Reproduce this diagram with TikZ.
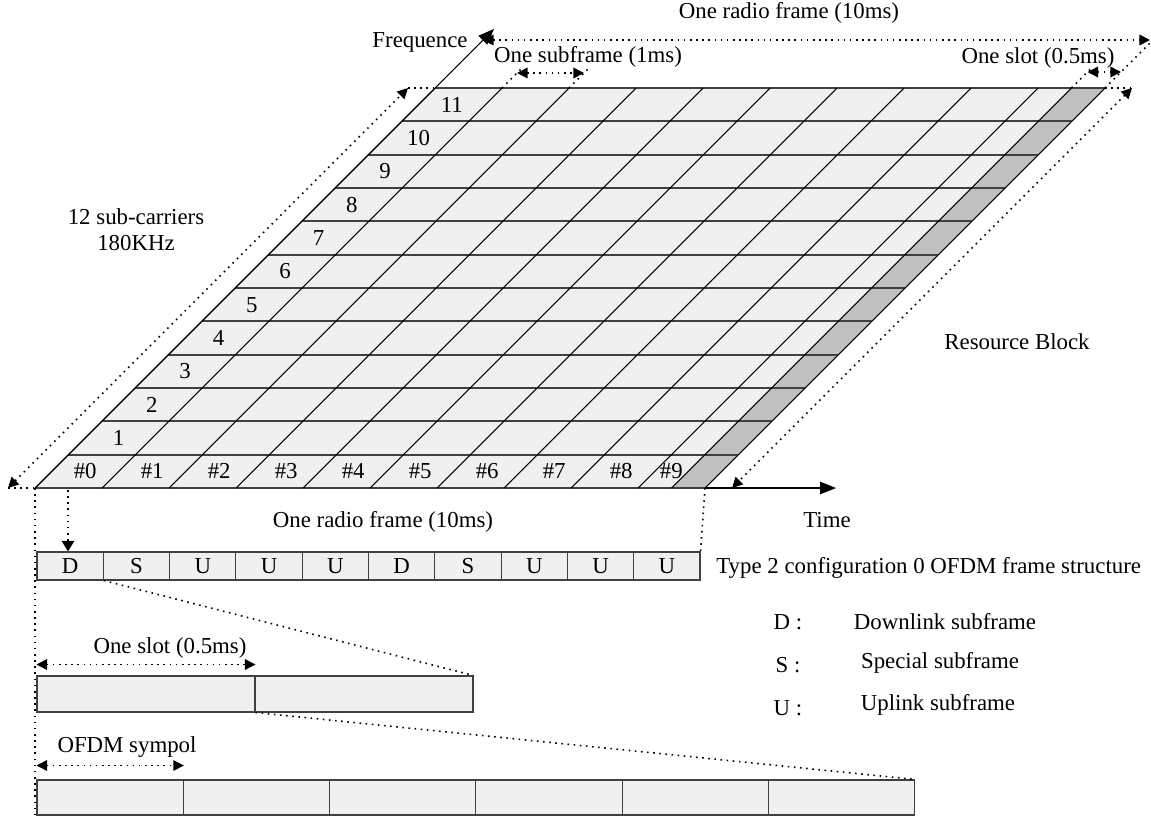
\documentclass[tikz,border=0pt]{standalone}
\usepackage{fontspec}
\setmainfont{Liberation Serif}
\usetikzlibrary{arrows.meta}

\definecolor{cellgray}{HTML}{F0F0F0}
\definecolor{slotgray}{HTML}{C0C0C0}
\definecolor{rulegray}{HTML}{404040}

\tikzset{
  dimline/.style={line width=0.9pt, dash pattern=on 0.9pt off 2.6pt},
  dimarrows/.style={dimline, {Triangle[length=6pt,width=6pt]}-{Triangle[length=6pt,width=6pt]}},
  downarrow/.style={dimline, -{Triangle[length=6pt,width=7pt]}},
  axisarrow/.style={line width=0.6pt, -{Triangle[length=9pt,width=7pt]}},
  lbl/.style={inner sep=0pt},
  subfr/.style={draw=rulegray, fill=cellgray, line width=0.6pt, inner sep=0pt,
    minimum width=1.326cm, minimum height=0.56cm},
  slotbox/.style={subfr, minimum width=4.36cm, minimum height=0.72cm},
  symbox/.style={subfr, minimum width=2.926cm, minimum height=0.7cm}
}

\begin{document}
\begin{tikzpicture}[x=0.02cm, y=-0.02cm, font=\fontsize{13}{15}\selectfont]
  \useasboundingbox (0,0) rectangle (1151,819);

  % resource grid corners
  \coordinate (bl) at (35,488);
  \coordinate (br) at (705,488);
  \coordinate (tr) at (1105,88);
  \coordinate (tl) at (435,88);

  \fill[cellgray] (bl) -- (br) -- (tr) -- (tl) -- cycle;
  \fill[slotgray] (671.5,488) -- (br) -- (tr) -- (1071.5,88) -- cycle;

  % sub-carrier rows
  \foreach \k in {0,...,12} {
    \pgfmathsetmacro{\ry}{488-400*\k/12}
    \pgfmathsetmacro{\rx}{35+400*\k/12}
    \draw[rulegray, line width=1pt] (\rx,\ry) -- ++(670,0);
  }

  % subframe borders
  \foreach \j in {0,...,10}
    \draw[line width=0.6pt] ({35+67*\j},488) -- ++(400,-400);
  \draw[line width=0.6pt] (671.5,488) -- ++(400,-400);

  \foreach \k in {1,...,11} {
    \pgfmathsetmacro{\ly}{488-400*(\k+0.5)/12}
    \pgfmathsetmacro{\lx}{35+400*(\k+0.5)/12+33.5}
    \node[lbl] (row\k) at (\lx,\ly) {\k};
  }
  \foreach \j in {0,...,8}
    \node[lbl] (col\j) at ({85.2+67*\j},471.3) {\#\j};
  \node[lbl] (col9) at (671.4,471.3) {\#9};

  % axes
  \coordinate (ftip) at (494,29);
  \coordinate (ttip) at (836,488);
  \draw[axisarrow] (bl) -- (ftip);
  \draw[axisarrow] (br) -- (ttip);
  \node (freq) at (420,42) {Frequence};
  \node (time) at (827,520) {Time};

  % 12 sub-carriers
  \coordinate (lb) at (8,488);
  \coordinate (lt) at (408,88);
  \draw[dimline] (lb) -- (bl);
  \draw[dimline] (lt) -- (tl);
  \draw[dimarrows] (lb) -- (lt);
  \node[align=center] (subc) at (136,230) {12 sub-carriers\\180KHz};

  % right side
  \coordinate (rt) at (1132,88);
  \coordinate (rb) at (732,488);
  \draw[dimline] (tr) -- (rt);
  \draw[dimarrows] (rt) -- (rb);
  \node (rblock) at (1017,342) {Resource Block};

  % radio frame, subframe, slot
  \coordinate (rfl) at (483,40);
  \coordinate (rfr) at (1150,40);
  \coordinate (rfe) at (1153,40);
  \draw[dimline] (tr) -- (rfe);
  \draw[dimarrows] (rfl) -- (rfr);
  \node (rframe) at (789,13) {One radio frame (10ms)};

  \coordinate (sa) at (502,88);
  \coordinate (sb) at (569,88);
  \draw[dimline] (sa) -- ++(20,-20);
  \draw[dimline] (sb) -- ++(20,-20);
  \draw[dimarrows] (517,73) -- (584,73);
  \node (sframe) at (588,57) {One subframe (1ms)};

  \coordinate (sc) at (1071.5,88);
  \draw[dimline] (sc) -- ++(20,-20);
  \draw[dimarrows] (1087.5,72) -- (1121,72);
  \node (slot) at (1038,58) {One slot (0.5ms)};

  % frame structure
  \foreach \t [count=\i from 0] in {D,S,U,U,U,D,S,U,U,U}
    \node[subfr] (sf\i) at ({37+66.3*(\i+0.5)},566) {\t};
  \node[anchor=west, inner sep=0pt] (ftype) at (716,568) {Type 2 configuration 0 OFDM frame structure};
  \node (rframe2) at (383,522) {One radio frame (10ms)};

  \coordinate (dtop) at (68,490);
  \draw[downarrow] (dtop) -- (sf0.north -| dtop);
  \draw[dimline] (br) -- (sf9.north east);
  \draw[dimline] (bl) -- (35,815);

  % legend
  \node (kd) at (788,622) {D :};
  \node (ks) at (788,665) {S :};
  \node (ku) at (788,708) {U :};
  \node (vd) at (945,622) {Downlink subframe};
  \node (vs) at (940,663) {Special subframe};
  \node (vu) at (938,705) {Uplink subframe};

  % slots
  \node[slotbox] (slot1) at (146,694) {};
  \node[slotbox] (slot2) at (364,694) {};
  \draw[dimline] (sf0.south east) -- (slot2.north east);
  \draw[dimarrows] ([yshift=0.22cm]slot1.north west) -- ([yshift=0.22cm]slot1.north east);
  \node (slotlbl) at (170,648) {One slot (0.5ms)};

  % OFDM symbols
  \foreach \i in {0,...,5}
    \node[symbox] (sym\i) at ({37+146.3*(\i+0.5)},797.5) {};
  \draw[dimline] (slot1.south east) -- (sym5.north east);
  \draw[dimarrows] ([yshift=0.28cm]sym0.north west) -- ([yshift=0.28cm]sym0.north east);
  \node (symlbl) at (127,747) {OFDM sympol};
\end{tikzpicture}
\end{document}
